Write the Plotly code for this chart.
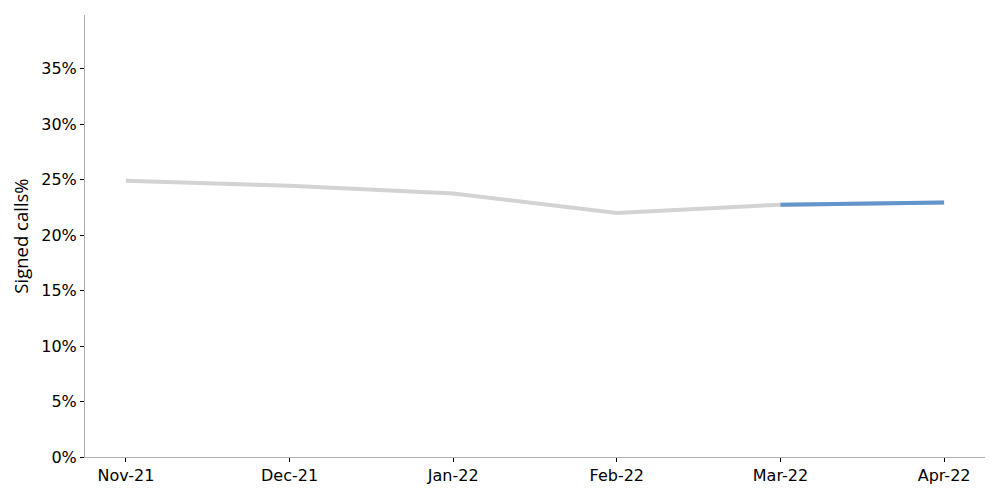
import plotly.graph_objects as go

months = ["Nov-21", "Dec-21", "Jan-22", "Feb-22", "Mar-22", "Apr-22"]
signed = [0.249, 0.2445, 0.2375, 0.220, 0.2275, 0.2295]
highlight_idx = [4, 5]
highlight_vals = [signed[i] for i in highlight_idx]

fig = go.Figure()
fig.add_trace(go.Scatter(x=list(range(len(months))), y=signed, mode="lines",
                         line=dict(color="#d3d3d3", width=4), showlegend=False))
fig.add_trace(go.Scatter(x=highlight_idx, y=highlight_vals, mode="lines",
                         line=dict(color="#6394cc", width=4), showlegend=False))

fig.update_layout(
    width=992, height=492,
    margin=dict(l=77, r=15, t=7, b=43),
    plot_bgcolor="white", paper_bgcolor="white",
    font=dict(family="DejaVu Sans", size=16, color="black"),
)
fig.update_xaxes(
    range=[-0.25, 5.25], tickmode="array", tickvals=list(range(len(months))), ticktext=months,
    showgrid=False, zeroline=False, showline=True, linecolor="#b0b0b0", linewidth=1,
    ticks="outside", ticklen=4, tickcolor="black",
)
fig.update_yaxes(
    range=[0, 0.3985], tickvals=[0, 0.05, 0.10, 0.15, 0.20, 0.25, 0.30, 0.35],
    tickformat=".0%", showgrid=False, zeroline=False, showline=True, linecolor="#b0b0b0",
    linewidth=1, ticks="outside", ticklen=4, tickcolor="black",
    title=dict(text="Signed calls%", standoff=9, font=dict(family="Open Sans", size=18.5)),
)
fig.write_html("out.html")
